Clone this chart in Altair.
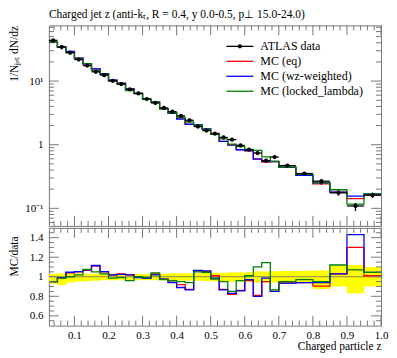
import altair as alt
import pandas as pd

FONT = "Liberation Serif"
FRAME = "#777777"
W, H_MAIN, H_RATIO = 333, 201, 98

# ---- data ----
edges = [0.025, 0.05, 0.075, 0.1, 0.125, 0.15, 0.175, 0.2, 0.225, 0.25, 0.275, 0.3,
         0.325, 0.35, 0.375, 0.4, 0.425, 0.45, 0.475, 0.5, 0.525, 0.55, 0.575, 0.6,
         0.625, 0.65, 0.675, 0.7, 0.75, 0.8, 0.85, 0.9, 0.95, 1.0]
data_vals = [43.7, 34.4, 28.0, 21.8, 17.5, 14.0, 12.4, 10.1, 8.98, 7.39,
             6.40, 5.23, 4.53, 3.78, 3.31, 2.84, 2.42, 1.93, 1.67, 1.49,
             1.30, 1.20, 0.975, 0.835, 0.74, 0.562, 0.64, 0.47, 0.352, 0.267,
             0.175, 0.109, 0.161]
band_lo = [0.93, 0.915, 0.94, 0.95, 0.955, 0.96, 0.965, 0.965, 0.965, 0.965,
           0.965, 0.965, 0.965, 0.965, 0.96, 0.96, 0.96, 0.96, 0.955, 0.955,
           0.955, 0.95, 0.95, 0.95, 0.94, 0.94, 0.94, 0.935, 0.935, 0.875,
           0.9, 0.83, 0.9]
band_hi = [1.03, 1.035, 1.035, 1.035, 1.03, 1.03, 1.03, 1.03, 1.03, 1.03,
           1.03, 1.03, 1.03, 1.03, 1.035, 1.035, 1.035, 1.035, 1.04, 1.04,
           1.04, 1.045, 1.045, 1.045, 1.055, 1.055, 1.055, 1.06, 1.06, 1.065,
           1.11, 1.12, 1.10]
ratio_eq = [0.95, 0.99, 1.04, 1.05, 1.065, 1.11, 1.05, 1.02, 1.03, 1.02,
            1.0, 0.985, 1.03, 0.975, 0.945, 0.92, 0.87, 1.06, 1.055, 1.01,
            0.87, 0.82, 0.86, 0.96, 0.81, 0.95, 0.85, 0.935, 0.94, 0.905,
            1.03, 1.30, 1.01]
ratio_wz = [0.95, 0.99, 1.046, 1.053, 1.07, 1.115, 1.053, 1.02, 1.025, 1.02,
            0.99, 0.985, 1.02, 0.975, 0.94, 0.89, 0.865, 1.065, 1.06, 0.985,
            0.865, 0.83, 0.855, 0.97, 0.80, 0.985, 0.85, 0.935, 0.94, 0.94,
            1.03, 1.43, 1.045]
ratio_ll = [0.95, 0.985, 1.0, 1.02, 1.075, 1.05, 1.03, 0.985, 0.99, 0.96,
            1.0, 0.99, 1.04, 0.97, 0.96, 0.95, 0.94, 1.05, 1.046, 0.975,
            0.95, 0.85, 0.96, 1.01, 1.10, 1.145, 0.865, 0.95, 0.97, 0.95,
            1.12, 1.07, 1.045]
series_names = ["ATLAS data", "MC (eq)", "MC (wz-weighted)", "MC (locked_lambda)"]
series_colors = ["black", "#ff0000", "#0000ff", "#008000"]

x_major = [0.1, 0.2, 0.3, 0.4, 0.5, 0.6, 0.7, 0.8, 0.9, 1.0]
x_minor = [round(0.02 * k, 2) for k in range(2, 50) if k % 5 != 0]
y_main_major = [0.1, 1, 10]
y_main_minor = [0.06, 0.07, 0.08, 0.09] + [0.1 * k for k in range(2, 10)] + \
               [float(k) for k in range(2, 10)] + [20.0, 30.0, 40.0, 50.0, 60.0, 70.0]
y_ratio_major = [0.6, 0.8, 1.0, 1.2, 1.4]
y_ratio_minor = [0.55, 0.65, 0.7, 0.75, 0.85, 0.9, 0.95, 1.05, 1.1, 1.15,
                 1.25, 1.3, 1.35, 1.45]

# ---- tables ----
bins = pd.DataFrame({"lo": edges[:-1], "hi": edges[1:], "v": data_vals,
                     "blo": band_lo, "bhi": band_hi})
bins["mid"] = (bins["lo"] + bins["hi"]) / 2
bins["elo"] = bins["v"] * bins["blo"]
bins["ehi"] = bins["v"] * bins["bhi"]

rows = []
for name, rat in zip(series_names[1:], [ratio_eq, ratio_wz, ratio_ll]):
    k = 0
    for i in range(len(data_vals)):
        mc = rat[i] * data_vals[i]
        rows.append({"series": name, "x": edges[i], "y": mc, "r": rat[i], "o": k}); k += 1
        rows.append({"series": name, "x": edges[i + 1], "y": mc, "r": rat[i], "o": k}); k += 1
steps = pd.DataFrame(rows)

color = alt.Color("series:N", scale=alt.Scale(domain=series_names, range=series_colors),
                  legend=None)

xs = alt.Scale(domain=[0.025, 1.0], nice=False, zero=False)
ys_main = alt.Scale(type="log", domain=[0.053, 75], nice=False)
ys_ratio = alt.Scale(domain=[0.5, 1.5], nice=False, zero=False)

main_y_axis = alt.Axis(
    values=y_main_major,
    labelExpr="datum.value >= 5 ? '10\u00b9' : (datum.value >= 0.5 ? '1' : '10\u207b\u00b9')",
    ticks=False, domain=False, grid=False, labelPadding=6, labelFontSize=11,
    title="1/N\u2c7c\u2091\u209c dN/dz", titleFontSize=11.5, titleFontWeight="normal",
    titleAngle=270, titleAnchor="end", titleBaseline="bottom", titleX=-29)
ratio_y_axis = alt.Axis(
    values=y_ratio_major,
    labelExpr="datum.value == 1 ? '1' : format(datum.value, '.1f')",
    ticks=False, domain=False, grid=False, labelPadding=6, labelFontSize=11,
    title="MC/data", titleFontSize=11.5, titleFontWeight="normal",
    titleAngle=270, titleAlign="right", titleBaseline="bottom", titleX=-29, titleY=8)
ratio_x_axis = alt.Axis(
    values=x_major, format=".1f", ticks=False, domain=False, grid=False,
    labelPadding=4, labelFontSize=11, labelFlush=False, labelOverlap=False,
    title="Charged particle z", titleAnchor="end", titleFontSize=11.5,
    titleFontWeight="normal", titlePadding=0)


def MX(f):
    return alt.X(f, type="quantitative", scale=xs, axis=None)


def MY(f):
    return alt.Y(f, type="quantitative", scale=ys_main, axis=main_y_axis)


def RX(f):
    return alt.X(f, type="quantitative", scale=xs, axis=ratio_x_axis)


def RY(f):
    return alt.Y(f, type="quantitative", scale=ys_ratio, axis=ratio_y_axis)


def tick_layers(xfn, yfn, h):
    out = []
    for vals, ln in [(x_major, 10), (x_minor, 5)]:
        df = pd.DataFrame({"t": vals})
        out.append(alt.Chart(df).mark_rule(color=FRAME, strokeWidth=1).encode(
            x=xfn("t"), y=alt.value(h), y2=alt.value(h - ln)))
        out.append(alt.Chart(df).mark_rule(color=FRAME, strokeWidth=1).encode(
            x=xfn("t"), y=alt.value(0), y2=alt.value(ln)))
    return out


def ytick_layers(yfn, majors, minors):
    out = []
    for vals, ln in [(majors, 10), (minors, 5)]:
        df = pd.DataFrame({"t": vals})
        out.append(alt.Chart(df).mark_rule(color=FRAME, strokeWidth=1).encode(
            y=yfn("t"), x=alt.value(0), x2=alt.value(ln)))
        out.append(alt.Chart(df).mark_rule(color=FRAME, strokeWidth=1).encode(
            y=yfn("t"), x=alt.value(W), x2=alt.value(W - ln)))
    return out


# ---- main panel ----
main_layers = []
main_layers += tick_layers(MX, MY, H_MAIN)
main_layers += ytick_layers(MY, y_main_major, y_main_minor)
main_layers.append(alt.Chart(steps).mark_line(strokeWidth=1.3, clip=True).encode(
    x=MX("x"), y=MY("y"), color=color, detail="series:N", order=alt.Order("o:Q")))
main_layers.append(alt.Chart(bins).mark_rule(color="black", strokeWidth=1.3).encode(
    x=MX("lo"), x2="hi", y=MY("v")))
main_layers.append(alt.Chart(bins).mark_rule(color="black", strokeWidth=1.3).encode(
    x=MX("mid"), y=MY("elo"), y2="ehi"))
main_layers.append(alt.Chart(bins).mark_circle(color="black", size=18, opacity=1).encode(
    x=MX("mid"), y=MY("v")))

for i, (name, col) in enumerate(zip(series_names, series_colors)):
    yy = 21 + 15 * i
    ldf = pd.DataFrame({"s": [name]})
    main_layers.append(alt.Chart(ldf).mark_rule(color=col, strokeWidth=1.3).encode(
        x=alt.value(178), x2=alt.value(205), y=alt.value(yy)))
    main_layers.append(alt.Chart(ldf).mark_text(
        align="left", baseline="middle", font=FONT, fontSize=12, color="black").encode(
        x=alt.value(212), y=alt.value(yy), text="s:N"))
    if i == 0:
        main_layers.append(alt.Chart(ldf).mark_circle(color="black", size=18, opacity=1).encode(
            x=alt.value(191.5), y=alt.value(yy)))

main = alt.layer(*main_layers).properties(
    width=W, height=H_MAIN,
    title=alt.TitleParams(
        "Charged jet z (anti-k\u209c, R = 0.4, y 0.0-0.5, p\u22a5 15.0-24.0)",
        anchor="start", frame="group", font=FONT, fontSize=11.5,
        fontWeight="normal", offset=4, color="black"))

# ---- ratio panel ----
ratio_layers = []
ratio_layers.append(alt.Chart(bins).mark_rect(color="#ffff00").encode(
    x=RX("lo"), x2="hi", y=RY("blo"), y2="bhi"))
ratio_layers.append(alt.Chart(pd.DataFrame({"one": [1.0]})).mark_rule(
    color="#666666", strokeWidth=0.8).encode(y=RY("one"), x=alt.value(0), x2=alt.value(W)))
ratio_layers.append(alt.Chart(steps).mark_line(strokeWidth=1.3, clip=True).encode(
    x=RX("x"), y=RY("r"), color=color, detail="series:N", order=alt.Order("o:Q")))
ratio_layers += tick_layers(RX, RY, H_RATIO)
ratio_layers += ytick_layers(RY, y_ratio_major, y_ratio_minor)

ratio = alt.layer(*ratio_layers).properties(width=W, height=H_RATIO)

chart = alt.vconcat(main, ratio, spacing=0).properties(
    padding={"left": 0, "top": 0, "right": 0, "bottom": 0}
).configure_view(stroke=FRAME, strokeWidth=1).configure_axis(
    labelFont=FONT, titleFont=FONT, labelColor="black", titleColor="black")

chart.save("out.html", embed_options={"renderer": "svg", "actions": False})
